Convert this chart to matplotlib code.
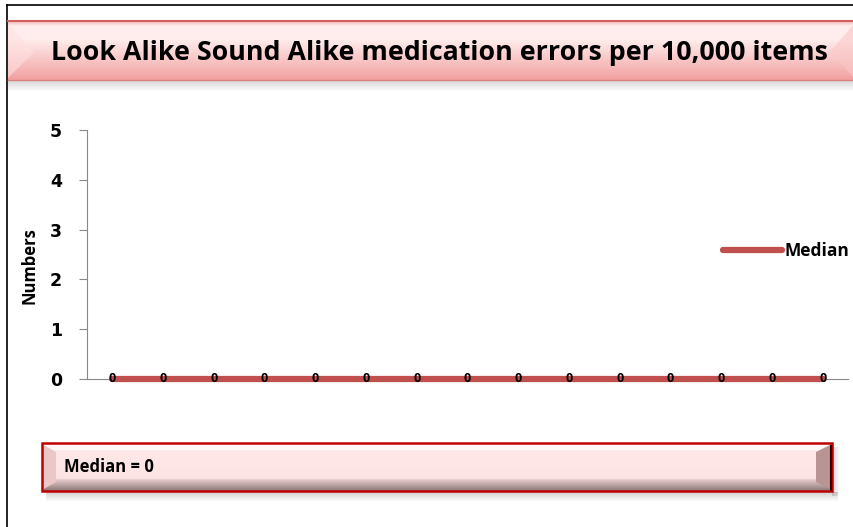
import numpy as np
import matplotlib
matplotlib.use("Agg")
import matplotlib.pyplot as plt
from matplotlib.patches import Polygon, Rectangle
from matplotlib import font_manager

# ---------------- data ----------------
categories = [str(i) for i in range(1, 16)]
median_values = [0] * 15
y_ticks = [0, 1, 2, 3, 4, 5]
title_text = "Look Alike Sound Alike medication errors per 10,000 items"
ylabel_text = "Numbers"
legend_label = "Median"
median_note = "Median = 0"

avail = {f.name for f in font_manager.fontManager.ttflist}
narrow = None
for cand in ["Liberation Sans Narrow", "DejaVu Sans Condensed", "Open Sans"]:
    if cand in avail:
        narrow = cand
        break
if narrow is None:
    narrow = "DejaVu Sans"

W, H = 854, 527
fig = plt.figure(figsize=(W / 100, H / 100), dpi=100)

# background decoration axes in pixel coords
bg = fig.add_axes([0, 0, 1, 1])
bg.set_xlim(0, W)
bg.set_ylim(H, 0)
bg.axis("off")

# outer border (left and top)
bg.plot([7, 7], [527, 5], color="black", lw=1.2)
bg.plot([7, 854], [5, 5], color="black", lw=1.2)

# title band shadow
shadow_img = np.ones((30, 1, 4))
shadow_img[:, 0, :3] = 0.55
shadow_img[:, 0, 3] = np.linspace(0.35, 0, 30)
bg.imshow(shadow_img, extent=[8, 854, 92, 80], aspect="auto", zorder=1)

# title band gradient
g = np.linspace(0, 1, 100)
band = np.zeros((100, 1, 3))
for i, t in enumerate(g):
    if t < 0.08:
        c = np.array([0.96, 0.72, 0.72]) * (1 - t / 0.08) + np.array([1.0, 0.93, 0.93]) * (t / 0.08)
    elif t < 0.3:
        c = np.array([1.0, 0.93, 0.93])
    else:
        tt = (t - 0.3) / 0.7
        c = np.array([1.0, 0.93, 0.93]) * (1 - tt) + np.array([0.95, 0.63, 0.63]) * tt
    band[i, 0] = c
bg.imshow(band, extent=[8, 854, 80, 21], aspect="auto", zorder=2)
# bevel triangles
bg.add_patch(Polygon([[8, 24], [34, 52], [8, 78]], closed=True, fc=(1, 0.88, 0.88), ec="none", alpha=0.6, zorder=3))
bg.add_patch(Polygon([[854, 24], [830, 52], [854, 78]], closed=True, fc=(0.98, 0.78, 0.78), ec="none", alpha=0.6, zorder=3))
bg.plot([8, 854], [21, 21], color="#d06060", lw=1.5, zorder=4)
bg.plot([8, 854], [80, 80], color="#d98080", lw=1.0, zorder=4)

bg.text(439, 53, title_text, fontsize=19.3, fontweight="bold", family=narrow,
        ha="center", va="center", zorder=5)

# median box shadow
sh2 = np.ones((20, 1, 4))
sh2[:, 0, :3] = 0.5
sh2[:, 0, 3] = np.linspace(0.35, 0, 20)
bg.imshow(sh2, extent=[46, 838, 502, 492], aspect="auto", zorder=1)
sh3 = np.ones((1, 20, 4))
sh3[0, :, :3] = 0.5
sh3[0, :, 3] = np.linspace(0.35, 0, 20)
bg.imshow(sh3, extent=[832, 840, 496, 447], aspect="auto", zorder=1)

# median box body gradient
box = np.zeros((100, 1, 3))
for i, t in enumerate(g):
    if t < 0.15:
        c = np.array([1.0, 0.97, 0.97])
    elif t < 0.75:
        f = (t - 0.15) / 0.6 * 0.3
        c = np.array([1.0, 0.91, 0.91]) * (1 - f) + np.array([0.96, 0.85, 0.85]) * f
    else:
        tt = (t - 0.75) / 0.25
        c = np.array([0.93, 0.82, 0.82]) * (1 - tt) + np.array([0.55, 0.47, 0.47]) * tt
    box[i, 0] = c
bg.imshow(box, extent=[42, 832, 491, 443], aspect="auto", zorder=2)
bg.add_patch(Polygon([[42, 444], [56, 452], [56, 482], [42, 490]], closed=True, fc=(0.92, 0.78, 0.78), ec="none", zorder=3))
bg.add_patch(Polygon([[832, 444], [816, 452], [816, 482], [832, 490]], closed=True, fc=(0.72, 0.58, 0.58), ec="none", zorder=3))
bg.add_patch(Rectangle((42, 443), 790, 48, fill=False, ec="#c00000", lw=1.8, zorder=4))
bg.plot([831, 831], [446, 490], color="#300000", lw=1.5, zorder=4)

bg.text(64, 467, median_note, fontsize=12, fontweight="bold", family=narrow,
        ha="left", va="center", zorder=5)

# ---------------- chart axes ----------------
ax = fig.add_axes([87 / W, 1 - 379 / H, (848 - 87) / W, (379 - 130) / H])
ax.patch.set_alpha(0)
x = np.arange(len(categories))
line, = ax.plot(x, median_values, color="#C0504D", lw=4.5, solid_capstyle="round", zorder=3, clip_on=False)
for xi, v in zip(x, median_values):
    ax.text(xi, v, str(v), ha="center", va="center", fontsize=9, fontweight="bold",
            family=narrow, zorder=4)

ax.set_xlim(-0.5, len(categories) - 0.5)
ax.set_ylim(0, 5)
ax.set_yticks(y_ticks)
ax.set_yticklabels([str(t) for t in y_ticks], fontsize=12.5, fontweight="bold")
ax.set_xticks([])
for s in ["top", "right"]:
    ax.spines[s].set_visible(False)
ax.spines["left"].set_color("#888888")
ax.spines["bottom"].set_color("#888888")
ax.tick_params(axis="y", direction="out", length=6, color="#888888", pad=12)

fig.text(30 / W, 1 - 266 / H, ylabel_text, rotation=90, fontsize=12, fontweight="bold",
         family=narrow, ha="center", va="center")

leg = ax.legend([line], [legend_label], loc="center left", bbox_to_anchor=(0.815, 0.515),
                frameon=False, handlelength=3.4, handletextpad=0.15,
                prop={"weight": "bold", "size": 12.5, "family": narrow})

fig.savefig("out.png", dpi=100)
